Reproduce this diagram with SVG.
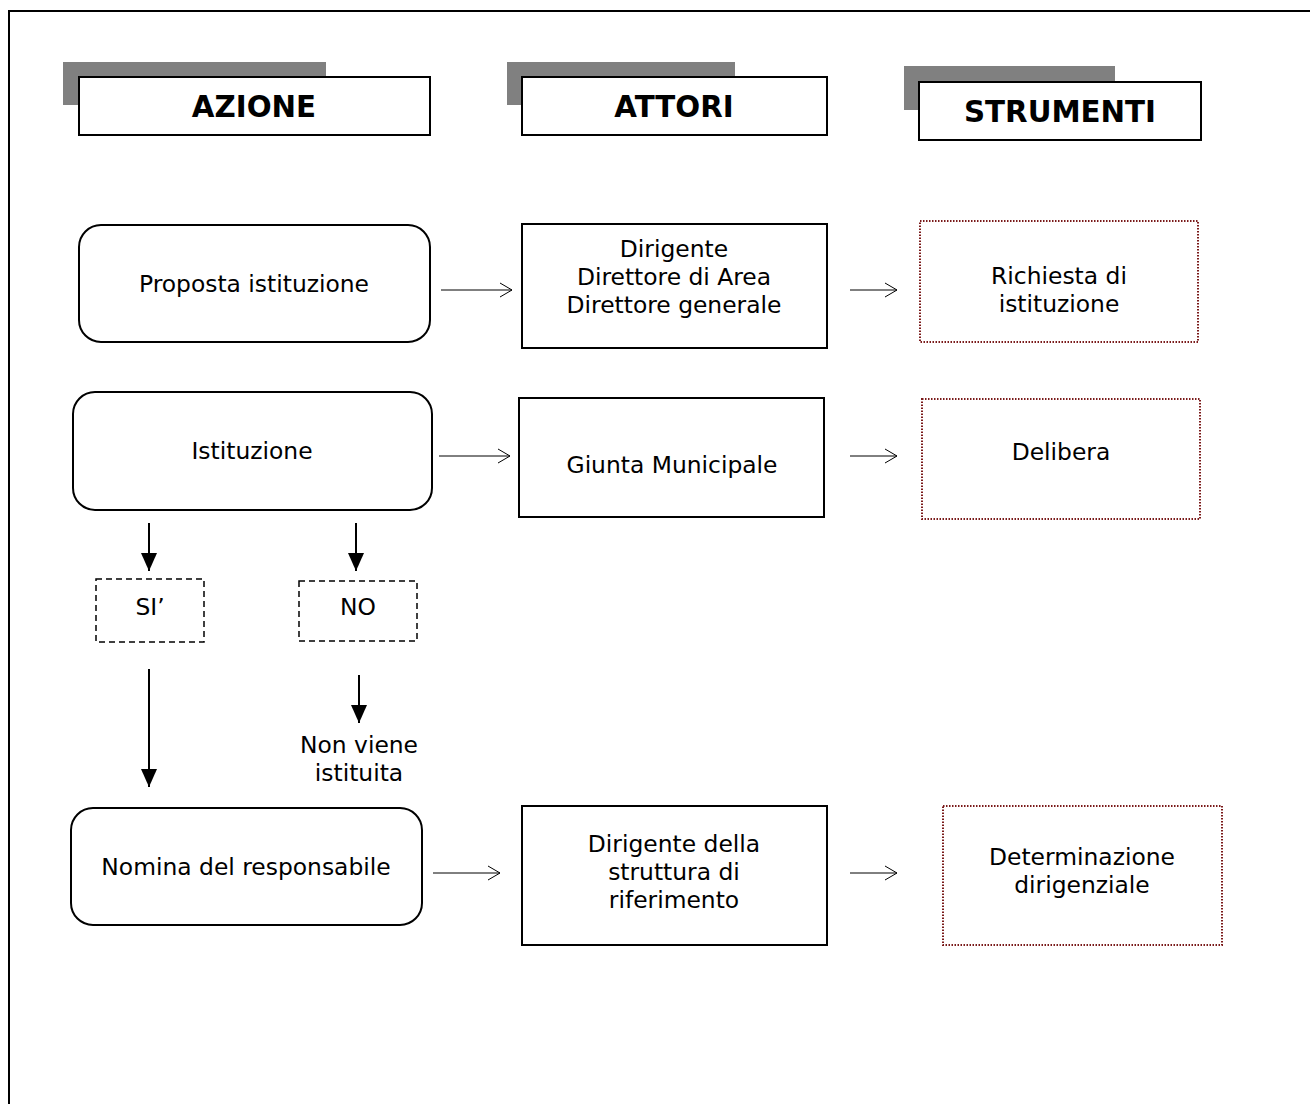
<svg xmlns="http://www.w3.org/2000/svg" width="1310" height="1104" viewBox="0 0 1310 1104">
<style>
text{font-family:"DejaVu Sans","Verdana",sans-serif;font-size:23.4px;fill:#000;text-anchor:middle}
.hd{font-weight:bold;font-size:29.3px}
.shadow{fill:#808080}
.hbox{fill:#fff;stroke:#000;stroke-width:2}
.rr{fill:#fff;stroke:#000;stroke-width:2}
.box{fill:#fff;stroke:#000;stroke-width:2}
.dash{fill:#fff;stroke:#000;stroke-width:1.5;stroke-dasharray:6,4}
.dot{fill:#fff;stroke:#7a1a1a;stroke-width:2;stroke-dasharray:1.5,1.5}
.ha{stroke:#000;stroke-width:1;fill:none;marker-end:url(#open)}
.va{stroke:#000;stroke-width:2;fill:none;marker-end:url(#fill)}
</style>
<defs>
<marker id="open" viewBox="0 0 14 16" refX="13" refY="8" markerWidth="14" markerHeight="16" markerUnits="userSpaceOnUse" orient="auto">
<path d="M1,1 L13,8 L1,15" fill="none" stroke="#000" stroke-width="1"/>
</marker>
<marker id="fill" viewBox="0 0 18 16" refX="18" refY="8" markerWidth="18" markerHeight="16" markerUnits="userSpaceOnUse" orient="auto">
<path d="M0,0 L18,8 L0,16 Z" fill="#000"/>
</marker>
</defs>
<rect x="9" y="11" width="1400" height="1200" fill="#fff" stroke="#000" stroke-width="2"/>

<g id="h-azione">
<rect class="shadow" x="63" y="62" width="263" height="43"/>
<rect class="hbox" x="79" y="77" width="351" height="58"/>
<text class="hd" x="254" y="117">AZIONE</text>
</g>
<g id="h-attori">
<rect class="shadow" x="507" y="62" width="228" height="43"/>
<rect class="hbox" x="522" y="77" width="305" height="58"/>
<text class="hd" x="674" y="117">ATTORI</text>
</g>
<g id="h-strumenti">
<rect class="shadow" x="904" y="66" width="211" height="44"/>
<rect class="hbox" x="919" y="82" width="282" height="58"/>
<text class="hd" x="1060" y="122">STRUMENTI</text>
</g>

<g id="n-proposta">
<rect class="rr" x="79" y="225" width="351" height="117" rx="22"/>
<text x="254" y="292">Proposta istituzione</text>
</g>
<g id="n-dirigenti">
<rect class="box" x="522" y="224" width="305" height="124"/>
<text x="674" y="257">Dirigente</text>
<text x="674" y="285">Direttore di Area</text>
<text x="674" y="313">Direttore generale</text>
</g>
<g id="n-richiesta">
<rect class="dot" x="920" y="221" width="278" height="121"/>
<text x="1059" y="284">Richiesta di</text>
<text x="1059" y="312">istituzione</text>
</g>

<g id="n-istituzione">
<rect class="rr" x="73" y="392" width="359" height="118" rx="22"/>
<text x="252" y="459">Istituzione</text>
</g>
<g id="n-giunta">
<rect class="box" x="519" y="398" width="305" height="119"/>
<text x="672" y="473">Giunta Municipale</text>
</g>
<g id="n-delibera">
<rect class="dot" x="922" y="399" width="278" height="120"/>
<text x="1061" y="460">Delibera</text>
</g>

<g id="n-si">
<rect class="dash" x="96" y="579" width="108" height="63"/>
<text x="150" y="615">SI’</text>
</g>
<g id="n-no">
<rect class="dash" x="299" y="581" width="118" height="60"/>
<text x="358" y="615">NO</text>
</g>
<g id="n-nonviene">
<text x="359" y="753">Non viene</text>
<text x="359" y="781">istituita</text>
</g>

<g id="n-nomina">
<rect class="rr" x="71" y="808" width="351" height="117" rx="22"/>
<text x="246" y="875">Nomina del responsabile</text>
</g>
<g id="n-dirstruttura">
<rect class="box" x="522" y="806" width="305" height="139"/>
<text x="674" y="852">Dirigente della</text>
<text x="674" y="880">struttura di</text>
<text x="674" y="908">riferimento</text>
</g>
<g id="n-determinazione">
<rect class="dot" x="943" y="806" width="279" height="139"/>
<text x="1082" y="865">Determinazione</text>
<text x="1082" y="893">dirigenziale</text>
</g>

<g id="connectors">
<line class="ha" x1="441" y1="290" x2="512" y2="290"/>
<line class="ha" x1="850" y1="290" x2="897" y2="290"/>
<line class="ha" x1="439" y1="456" x2="510" y2="456"/>
<line class="ha" x1="850" y1="456" x2="897" y2="456"/>
<line class="ha" x1="433" y1="873" x2="500" y2="873"/>
<line class="ha" x1="850" y1="873" x2="897" y2="873"/>
<line class="va" x1="149" y1="523" x2="149" y2="571"/>
<line class="va" x1="356" y1="523" x2="356" y2="571"/>
<line class="va" x1="149" y1="669" x2="149" y2="787"/>
<line class="va" x1="359" y1="675" x2="359" y2="723"/>
</g>
</svg>
